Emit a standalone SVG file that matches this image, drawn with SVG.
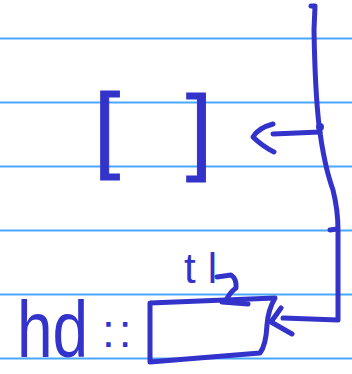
<svg xmlns="http://www.w3.org/2000/svg" width="352" height="374" viewBox="0 0 352 374">
<style>
.rule{stroke:#4aa8ff;stroke-width:2}
.ink{fill:none;stroke:#3333cc;stroke-width:5;stroke-linecap:round;stroke-linejoin:round}
.txt{fill:#3333cc;font-family:"Liberation Sans",Arial,sans-serif}
</style>
<rect width="352" height="374" fill="#ffffff"/>
<g id="rules">
<line class="rule" x1="0" y1="38.5" x2="352" y2="38.5"/>
<line class="rule" x1="0" y1="102.5" x2="352" y2="102.5"/>
<line class="rule" x1="0" y1="166.5" x2="352" y2="166.5"/>
<line class="rule" x1="0" y1="230.5" x2="352" y2="230.5"/>
<line class="rule" x1="0" y1="294.5" x2="352" y2="294.5"/>
<line class="rule" x1="0" y1="358.5" x2="352" y2="358.5"/>
</g>
<g id="nil">
<text class="txt" x="94" y="160" font-size="94" stroke="#3333cc" stroke-width="1">[</text>
<text class="txt" x="186" y="162" font-size="94" stroke="#3333cc" stroke-width="1">]</text>
</g>
<g id="hd-label">
<text class="txt" transform="translate(17,357) scale(0.8,1)" font-size="80">hd</text>
<text class="txt" x="102" y="347" font-size="46" letter-spacing="4">::</text>
</g>
<g id="tl-label">
<text class="txt" x="184" y="283" font-size="42" letter-spacing="12">tl</text>
</g>
<g id="cell">
<path class="ink" d="M150,303 L275,298 Q268,310 267,325 Q266,345 260,353 L150,362 Z"/>
</g>
<g id="connectors">
<path class="ink" d="M311,6 L315,6 L314,30 Q315,90 319,125 Q324,165 333,190 Q338,210 338,230 L338,320 L283,318"/>
<path class="ink" d="M330,230 L337,229"/>
<circle cx="320" cy="127" r="4" fill="#3333cc"/>
<path class="ink" d="M320,132 L273,134"/>
<path class="ink" d="M273,124 Q258,128 253,137 Q262,146 274,152"/>
<path class="ink" d="M281,308 L271,322 L292,334"/>
<path class="ink" d="M217,277 L231,275 Q237,279 236,288 Q229,293 226,301"/>
<path class="ink" d="M222,302 L248,304"/>
</g>
</svg>
